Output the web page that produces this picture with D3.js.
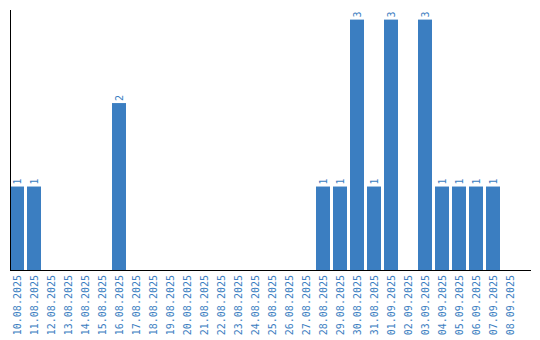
<!DOCTYPE html>
<html>
<head>
<meta charset="utf-8">
<script src="https://cdn.jsdelivr.net/npm/d3@7"></script>
<style>
    body { margin: 0; background: #fff; }
    text { font-family: "DejaVu Sans Mono", monospace; }
</style>
</head>
<body>
<svg id="chart" width="540" height="340"></svg>
<script>
const dates = [
    "10.08.2025", "11.08.2025", "12.08.2025", "13.08.2025", "14.08.2025",
    "15.08.2025", "16.08.2025", "17.08.2025", "18.08.2025", "19.08.2025",
    "20.08.2025", "21.08.2025", "22.08.2025", "23.08.2025", "24.08.2025",
    "25.08.2025", "26.08.2025", "27.08.2025", "28.08.2025", "29.08.2025",
    "30.08.2025", "31.08.2025", "01.09.2025", "02.09.2025", "03.09.2025",
    "04.09.2025", "05.09.2025", "06.09.2025", "07.09.2025", "08.09.2025",
];
const counts = [
    1, 1, 0, 0, 0, 0, 2, 0, 0, 0,
    0, 0, 0, 0, 0, 0, 0, 0, 1, 1,
    3, 1, 3, 0, 3, 1, 1, 1, 1, 0,
];

const COLOR = "#3b7ec1";
const LEFT = 10, TOP = 10, BOTTOM = 270;

const svg = d3.select("#chart");

// step of 17px, bar 14px, gap at the right of each band
const x = d3.scaleBand()
    .domain(dates)
    .range([LEFT, LEFT + dates.length * 17])
    .paddingInner(3 / 17)
    .paddingOuter(3 / 34)
    .align(0);

const y = d3.scaleLinear()
    .domain([0, 3.115])
    .range([BOTTOM, TOP]);

const data = dates.map((d, i) => ({ date: d, value: counts[i] }));

// bars
svg.append("g")
    .selectAll("rect")
    .data(data.filter(d => d.value > 0))
    .join("rect")
    .attr("x", d => x(d.date))
    .attr("y", d => y(d.value))
    .attr("width", x.bandwidth())
    .attr("height", d => y(0) - y(d.value))
    .attr("fill", COLOR);

// value labels
svg.append("g")
    .selectAll("text")
    .data(data.filter(d => d.value > 0))
    .join("text")
    .attr("transform", d => `translate(${x(d.date) + x.bandwidth() / 2 + 3.5}, ${y(d.value) - 2}) rotate(-90)`)
    .attr("font-size", 10)
    .attr("fill", COLOR)
    .text(d => d.value);

// x axis
const xAxis = svg.append("g")
    .attr("transform", `translate(0, ${BOTTOM})`)
    .call(d3.axisBottom(x).tickSize(0).tickPadding(0));
xAxis.select(".domain").remove();
xAxis.selectAll("text")
    .attr("font-family", "DejaVu Sans Mono, monospace")
    .attr("font-size", 10)
    .attr("fill", COLOR)
    .attr("text-anchor", "end")
    .attr("dy", null)
    .attr("y", 0)
    .attr("transform", "translate(3.5, 5) rotate(-90)")
    .attr("x", 0);

svg.append("line")
    .attr("x1", LEFT)
    .attr("x2", 531)
    .attr("y1", BOTTOM + 0.5)
    .attr("y2", BOTTOM + 0.5)
    .attr("stroke", "#000")
    .attr("stroke-width", 1);

// y axis line
svg.append("line")
    .attr("x1", LEFT + 0.5)
    .attr("x2", LEFT + 0.5)
    .attr("y1", TOP)
    .attr("y2", BOTTOM + 1)
    .attr("stroke", "#000")
    .attr("stroke-width", 1);
</script>
</body>
</html>
